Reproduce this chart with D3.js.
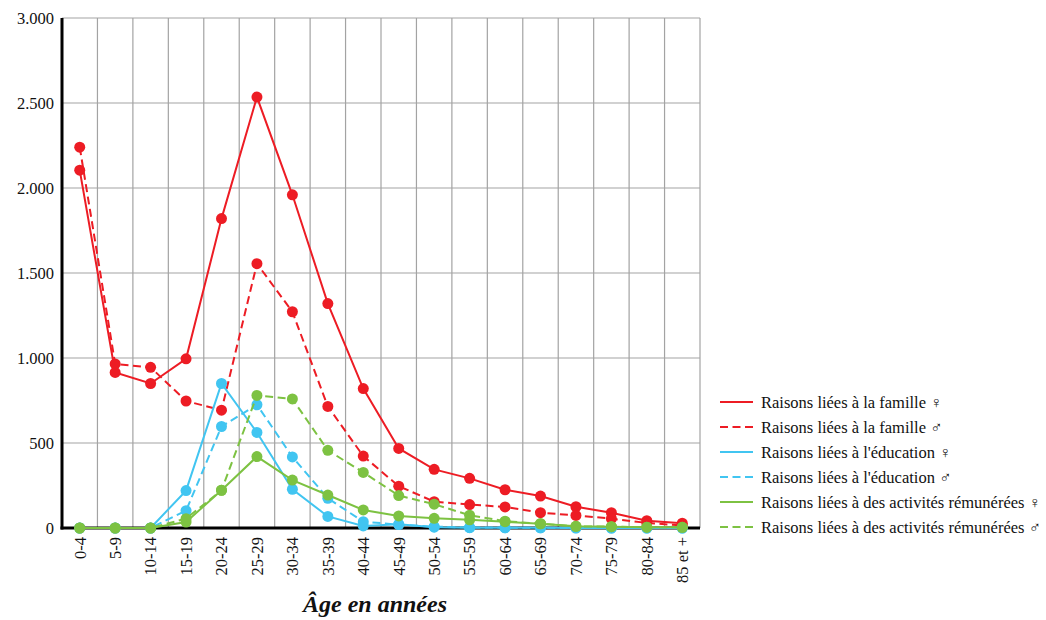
<!DOCTYPE html>
<html>
<head>
<meta charset="utf-8">
<script src="https://cdn.jsdelivr.net/npm/d3@7"></script>
<style>
  html, body { margin: 0; padding: 0; background: #fff; }
  svg { display: block; }
  svg text { font-family: "Liberation Serif", "Times New Roman", Times, "DejaVu Serif", serif !important; }
</style>
</head>
<body>
<svg id="chart" width="1046" height="620"></svg>
<script>
const categories = ["0-4","5-9","10-14","15-19","20-24","25-29","30-34","35-39","40-44","45-49","50-54","55-59","60-64","65-69","70-74","75-79","80-84","85 et +"];
const familleF   = [2105, 915, 850, 995, 1820, 2535, 1960, 1320, 820, 468, 345, 292, 225, 188, 125, 90, 43, 28];
const familleM   = [2240, 965, 945, 747, 693, 1555, 1272, 715, 423, 246, 155, 138, 124, 90, 74, 55, 30, 15];
const educationF = [0, 0, 0, 220, 850, 562, 228, 68, 12, 22, 5, 2, 1, 1, 0, 0, 0, 0];
const educationM = [0, 0, 0, 102, 597, 725, 418, 175, 37, 20, 8, 3, 2, 1, 1, 0, 0, 0];
const activitesF = [0, 0, 0, 35, 222, 420, 282, 194, 106, 71, 57, 48, 37, 25, 10, 8, 5, 4];
const activitesM = [0, 0, 0, 55, 222, 780, 759, 457, 327, 191, 140, 75, 40, 25, 10, 8, 5, 4];
const yTicks = [0, 500, 1000, 1500, 2000, 2500, 3000];
const seriesNames = [
  "Raisons liées à la famille ♀",
  "Raisons liées à la famille ♂",
  "Raisons liées à l'éducation ♀",
  "Raisons liées à l'éducation ♂",
  "Raisons liées à des activités rémunérées ♀",
  "Raisons liées à des activités rémunérées ♂"
];
const xTitle = "Âge en années";

(function () {
const RED = "#ED1C24", BLUE = "#41C5F1", GREEN = "#7DC242";
const series = [
  { name: seriesNames[0], values: familleF, color: RED, dashed: false },
  { name: seriesNames[1], values: familleM, color: RED, dashed: true },
  { name: seriesNames[2], values: educationF, color: BLUE, dashed: false },
  { name: seriesNames[3], values: educationM, color: BLUE, dashed: true },
  { name: seriesNames[4], values: activitesF, color: GREEN, dashed: false },
  { name: seriesNames[5], values: activitesM, color: GREEN, dashed: true }
];

const svg = d3.select("#chart");
const L = 62, R = 700, T = 18, B = 528;

const x = d3.scaleBand().domain(categories).range([L, R]).padding(0);
const y = d3.scaleLinear().domain([0, 3000]).range([B, T]);
const locale = d3.formatLocale({ decimal: ",", thousands: ".", grouping: [3], currency: ["", " €"] });
const fmt = locale.format(",d");

// grid
const grid = svg.append("g");
grid.selectAll("line.h").data(yTicks.filter(d => d > 0)).join("line")
  .attr("x1", L).attr("x2", R)
  .attr("y1", d => y(d)).attr("y2", d => y(d))
  .attr("stroke", "#a3a3a3").attr("stroke-width", 1.2);
grid.selectAll("line.v").data(categories).join("line")
  .attr("x1", d => x(d) + x.bandwidth()).attr("x2", d => x(d) + x.bandwidth())
  .attr("y1", T).attr("y2", B)
  .attr("stroke", "#a3a3a3").attr("stroke-width", 1.2);

// y axis
const yAxis = svg.append("g").attr("transform", `translate(${L},0)`)
  .call(d3.axisLeft(y).tickValues(yTicks).tickFormat(fmt).tickSize(0).tickPadding(8));
yAxis.select(".domain").attr("stroke", "#000").attr("stroke-width", 3)
  .attr("d", `M0,${T}V${B + 1.5}`);
yAxis.selectAll("text").attr("font-size", 16.5).attr("fill", "#111");

// x axis
const xAxis = svg.append("g").attr("transform", `translate(0,${B})`)
  .call(d3.axisBottom(x).tickSize(0).tickPadding(0));
xAxis.select(".domain").attr("stroke", "#000").attr("stroke-width", 3)
  .attr("d", `M${L - 1.5},0H${R}`);
xAxis.selectAll("text")
  .attr("font-size", 16.5).attr("fill", "#111")
  .attr("text-anchor", "end")
  .attr("dy", "0.35em")
  .attr("transform", "translate(0,9) rotate(-90)")
  .attr("x", 0).attr("y", 0);

// series
const line = d3.line().x((d, i) => x(categories[i]) + x.bandwidth() / 2).y(d => y(d));
series.forEach(s => {
  const g = svg.append("g");
  g.append("path").datum(s.values)
    .attr("d", line).attr("fill", "none")
    .attr("stroke", s.color).attr("stroke-width", 2)
    .attr("stroke-dasharray", s.dashed ? "8,4.5" : null);
  g.selectAll("circle").data(s.values).join("circle")
    .attr("cx", (d, i) => x(categories[i]) + x.bandwidth() / 2)
    .attr("cy", d => y(d))
    .attr("r", 5.5).attr("fill", s.color);
});

// x title
svg.append("text").attr("x", 375).attr("y", 612)
  .attr("text-anchor", "middle").attr("font-size", 24)
  .attr("font-style", "italic").attr("font-weight", "bold").attr("fill", "#111")
  .text(xTitle);

// legend
const legend = svg.append("g");
series.forEach((s, i) => {
  const ly = 402 + i * 25;
  legend.append("line").attr("x1", 720).attr("x2", 753)
    .attr("y1", ly).attr("y2", ly)
    .attr("stroke", s.color).attr("stroke-width", 2)
    .attr("stroke-dasharray", s.dashed ? "8,4.5" : null);
  legend.append("text").attr("x", 761).attr("y", ly).attr("dy", "0.35em")
    .attr("font-size", 16.5).attr("fill", "#111")
    .text(s.name);
});
})();
</script>
</body>
</html>
